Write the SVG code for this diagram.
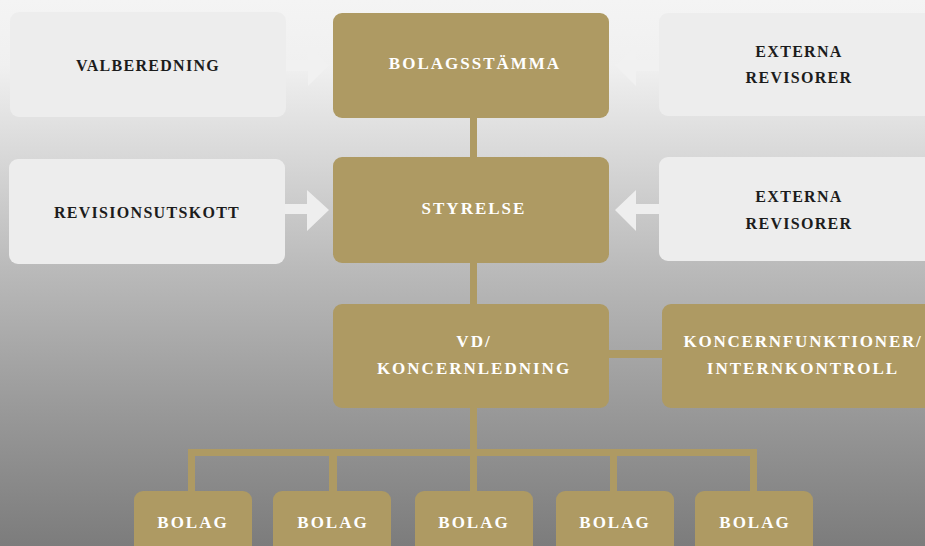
<svg xmlns="http://www.w3.org/2000/svg" width="925" height="546" viewBox="0 0 925 546">
<defs>
<linearGradient id="bg" x1="0" y1="0" x2="0" y2="1">
<stop offset="0" stop-color="#f4f4f4"/>
<stop offset="0.12" stop-color="#f0f0f0"/>
<stop offset="0.3" stop-color="#d6d6d6"/>
<stop offset="0.5" stop-color="#b9b9b9"/>
<stop offset="0.75" stop-color="#999999"/>
<stop offset="1" stop-color="#7c7c7c"/>
</linearGradient>
</defs>
<style>
.light{fill:#ededed}
.gold{fill:#ae9a63}
.conn{fill:#ae9a63}
.arrow{fill:#eeeeee}
.faint{fill:#f1f1f1}
.tl{font-family:"Liberation Serif",serif;font-size:16px;fill:#1c1c1c;letter-spacing:1.3px;text-anchor:middle;font-weight:bold}
.tg{font-family:"Liberation Serif",serif;font-size:17px;fill:#ffffff;letter-spacing:2px;text-anchor:middle;font-weight:bold}
</style>
<rect x="0" y="0" width="925" height="546" fill="url(#bg)"/>
<g id="connectors">
<path class="faint" d="M286 60 H308 V45 L329 65 L308 86 V71 H286 Z"/>
<path class="faint" d="M659 60 H636 V45 L615 65 L636 86 V71 H659 Z"/>
<path class="arrow" d="M285 204 H307 V190 L329 210 L307 231 V214 H285 Z"/>
<path class="arrow" d="M659 204 H636 V190 L615 210 L636 231 V214 H659 Z"/>
<rect class="conn" x="470" y="116" width="7" height="43"/>
<rect class="conn" x="470" y="261" width="7" height="45"/>
<rect class="conn" x="470" y="406" width="7" height="87"/>
<rect class="conn" x="607" y="350" width="57" height="8"/>
<rect class="conn" x="188" y="449" width="569" height="7"/>
<rect class="conn" x="188" y="449" width="7" height="44"/>
<rect class="conn" x="329" y="449" width="8" height="44"/>
<rect class="conn" x="610" y="449" width="7" height="44"/>
<rect class="conn" x="750" y="449" width="7" height="44"/>
</g>
<g id="valberedning">
<rect class="light" x="10" y="12" width="276" height="105" rx="9"/>
<text class="tl" x="148" y="71">VALBEREDNING</text>
</g>
<g id="bolagsstamma">
<rect class="gold" x="333" y="13" width="276" height="105" rx="9"/>
<text class="tg" x="475" y="69">BOLAGSSTÄMMA</text>
</g>
<g id="externa1">
<rect class="light" x="659" y="13" width="280" height="103" rx="9"/>
<text class="tl" x="799" y="57">EXTERNA</text>
<text class="tl" x="799" y="83">REVISORER</text>
</g>
<g id="revisionsutskott">
<rect class="light" x="9" y="159" width="276" height="105" rx="9"/>
<text class="tl" x="147" y="218">REVISIONSUTSKOTT</text>
</g>
<g id="styrelse">
<rect class="gold" x="333" y="157" width="276" height="106" rx="9"/>
<text class="tg" x="474" y="214">STYRELSE</text>
</g>
<g id="externa2">
<rect class="light" x="659" y="157" width="280" height="104" rx="9"/>
<text class="tl" x="799" y="202">EXTERNA</text>
<text class="tl" x="799" y="229">REVISORER</text>
</g>
<g id="vd">
<rect class="gold" x="333" y="304" width="276" height="104" rx="9"/>
<text class="tg" x="474" y="347">VD/</text>
<text class="tg" x="474" y="374">KONCERNLEDNING</text>
</g>
<g id="koncernfunktioner">
<rect class="gold" x="662" y="304" width="280" height="104" rx="9"/>
<text class="tg" x="803" y="347" style="letter-spacing:1.8px">KONCERNFUNKTIONER/</text>
<text class="tg" x="803" y="374">INTERNKONTROLL</text>
</g>
<g id="bolag1">
<rect class="gold" x="134" y="491" width="118" height="70" rx="9"/>
<text class="tg" x="193" y="528">BOLAG</text>
</g>
<g id="bolag2">
<rect class="gold" x="273" y="491" width="118" height="70" rx="9"/>
<text class="tg" x="333" y="528">BOLAG</text>
</g>
<g id="bolag3">
<rect class="gold" x="415" y="491" width="118" height="70" rx="9"/>
<text class="tg" x="474" y="528">BOLAG</text>
</g>
<g id="bolag4">
<rect class="gold" x="556" y="491" width="118" height="70" rx="9"/>
<text class="tg" x="615" y="528">BOLAG</text>
</g>
<g id="bolag5">
<rect class="gold" x="695" y="491" width="118" height="70" rx="9"/>
<text class="tg" x="755" y="528">BOLAG</text>
</g>
</svg>
